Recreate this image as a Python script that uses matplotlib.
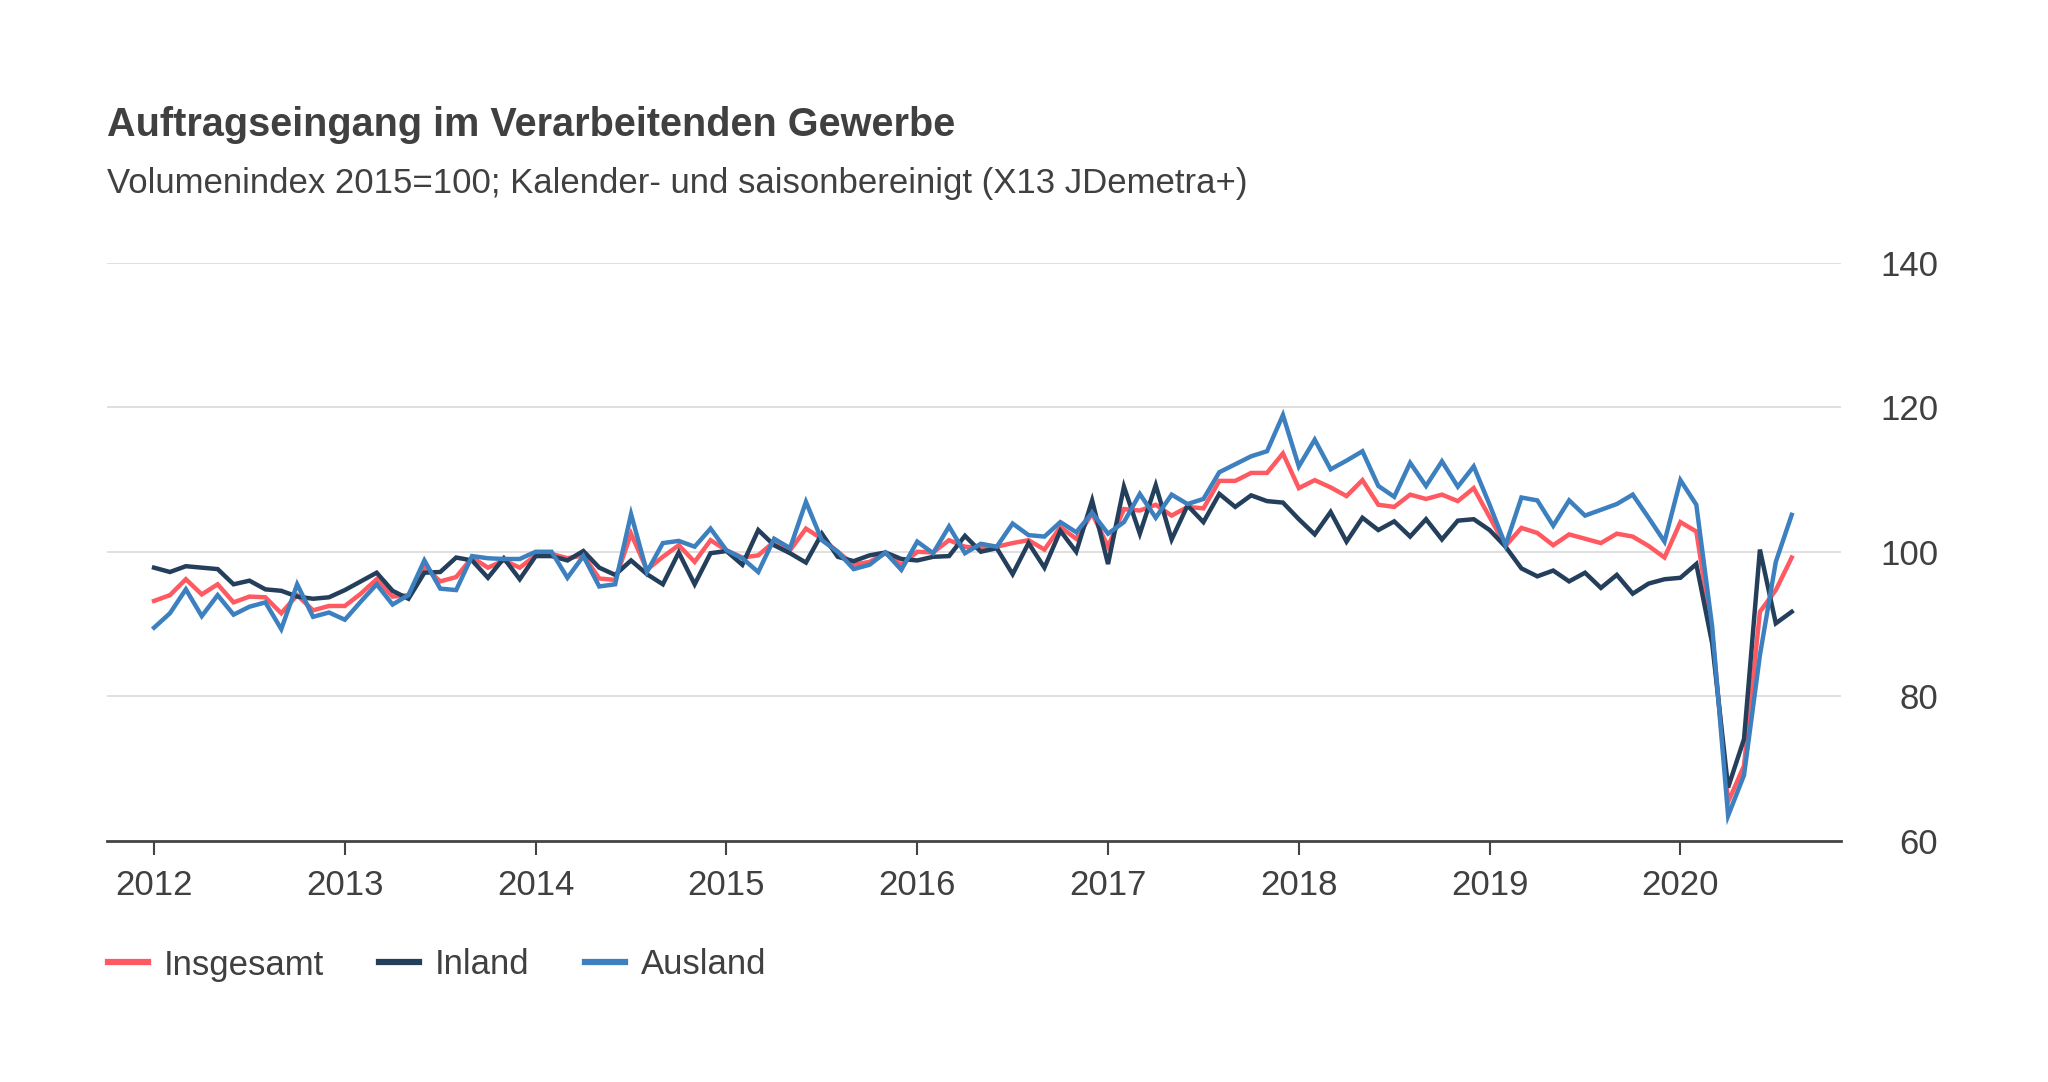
import numpy as np
import matplotlib
matplotlib.use('Agg')
import matplotlib.pyplot as plt

plt.rcParams['font.family'] = ['Liberation Sans', 'DejaVu Sans']

# Monatswerte Jan 2012 - Aug 2020
insgesamt = [93.2, 94.0, 96.2, 94.1, 95.5, 93.0, 93.8, 93.7, 91.5, 94.0, 91.9, 92.5,
             92.5, 94.2, 96.2, 93.8, 94.0, 97.9, 95.9, 96.5, 99.2, 97.8, 98.8, 97.8,
             99.5, 99.7, 99.1, 99.5, 96.3, 96.1, 102.5, 97.5, 99.3, 100.9, 98.6, 101.6,
             100.2, 99.2, 99.5, 101.4, 100.2, 103.2, 101.8, 100.0, 98.2, 98.6, 99.8, 98.2,
             100.0, 99.9, 101.6, 100.7, 100.5, 100.7, 101.2, 101.6, 100.3, 103.4, 101.8, 105.3,
             100.7, 105.9, 105.7, 106.5, 105.0, 106.2, 106.0, 109.8, 109.8, 110.9, 110.9, 113.6,
             108.8, 109.9, 108.9, 107.7, 109.9, 106.5, 106.2, 107.9, 107.3, 107.9, 107.0, 108.8,
             104.8, 100.8, 103.3, 102.6, 100.9, 102.4, 101.8, 101.2, 102.5, 102.1, 100.8, 99.2,
             104.1, 102.8, 88.7, 65.4, 70.4, 91.7, 94.7, 99.2]
inland = [97.8, 97.2, 98.0, 97.8, 97.6, 95.5, 96.0, 94.8, 94.6, 93.8, 93.5, 93.7,
          94.7, 95.9, 97.1, 94.6, 93.5, 97.1, 97.2, 99.2, 98.8, 96.4, 99.1, 96.2,
          99.4, 99.4, 98.8, 100.1, 97.8, 96.8, 98.8, 96.9, 95.5, 99.9, 95.5, 99.8,
          100.1, 98.2, 103.0, 100.9, 99.8, 98.5, 102.5, 99.3, 98.7, 99.5, 99.9, 99.0,
          98.8, 99.3, 99.4, 102.2, 100.0, 100.5, 96.9, 101.2, 97.8, 102.9, 100.0, 107.1,
          98.3, 109.0, 102.5, 109.2, 101.7, 106.4, 104.1, 108.0, 106.2, 107.8, 107.0, 106.8,
          104.5, 102.4, 105.5, 101.4, 104.7, 103.0, 104.2, 102.1, 104.5, 101.7, 104.3, 104.5,
          103.0, 100.7, 97.7, 96.6, 97.4, 95.9, 97.1, 95.0, 96.8, 94.2, 95.6, 96.2,
          96.4, 98.3, 87.3, 67.4, 74.1, 100.3, 90.1, 91.7]
ausland = [89.5, 91.5, 94.8, 91.1, 94.0, 91.3, 92.4, 93.0, 89.3, 95.5, 91.0, 91.6,
           90.6, 93.1, 95.5, 92.7, 94.0, 98.8, 94.9, 94.7, 99.4, 99.1, 99.0, 99.0,
           100.0, 100.0, 96.4, 99.4, 95.2, 95.5, 105.2, 97.2, 101.2, 101.5, 100.7, 103.2,
           100.2, 99.1, 97.2, 101.8, 100.5, 106.9, 101.6, 100.0, 97.6, 98.2, 99.9, 97.5,
           101.4, 99.8, 103.5, 99.8, 101.1, 100.7, 103.9, 102.3, 102.1, 104.1, 102.7, 105.4,
           102.5, 104.1, 108.0, 104.7, 107.9, 106.6, 107.3, 111.0, 112.1, 113.2, 113.9, 118.9,
           111.8, 115.5, 111.4, 112.6, 113.9, 109.1, 107.6, 112.3, 109.1, 112.5, 109.0, 111.8,
           106.5, 100.9, 107.5, 107.1, 103.6, 107.1, 105.0, 105.8, 106.6, 107.9, 104.7, 101.4,
           109.9, 106.5, 89.6, 63.5, 69.1, 85.7, 98.6, 105.1]

jahre = [2012, 2013, 2014, 2015, 2016, 2017, 2018, 2019, 2020]
y_ticks = [60, 80, 100, 120, 140]

x = 2012 + np.arange(len(insgesamt)) / 12

text_col = '#404040'
fig = plt.figure(figsize=(20.48, 10.82), dpi=100)
ax = fig.add_axes([107 / 2048, 1 - 841 / 1082, (1841 - 107) / 2048, (841 - 262.5) / 1082])

ax.plot(x, insgesamt, color='#FF5A62', lw=3.2, label='Insgesamt', solid_joinstyle='miter')
ax.plot(x, inland, color='#243F5C', lw=3.2, label='Inland', solid_joinstyle='miter')
ax.plot(x, ausland, color='#3D80BF', lw=3.2, label='Ausland', solid_joinstyle='miter')

ax.set_xlim(2012 - 2.96 / 12, 2012 + 106.1 / 12)
ax.set_ylim(60, 140)
ax.set_xticks(jahre)
ax.set_xticklabels([str(j) for j in jahre])
ax.set_yticks(y_ticks)

for v in y_ticks[1:]:
    ax.axhline(v, color='#dddddd', lw=1.3, zorder=0)

for s in ['top', 'left', 'right']:
    ax.spines[s].set_visible(False)
ax.spines['bottom'].set_color('#444444')
ax.spines['bottom'].set_linewidth(2)

ax.yaxis.tick_right()
ax.tick_params(axis='y', length=0, pad=70, labelsize=25, labelcolor=text_col)
for lbl in ax.get_yticklabels():
    lbl.set_ha('right')
ax.tick_params(axis='x', length=10, width=1.5, color='#444444', pad=10,
               labelsize=25, labelcolor=text_col)

fig.text(107 / 2048, 1 - 136 / 1082, 'Auftragseingang im Verarbeitenden Gewerbe',
         fontsize=28.5, fontweight='bold', color=text_col, va='baseline')
fig.text(107 / 2048, 1 - 193 / 1082,
         'Volumenindex 2015=100; Kalender- und saisonbereinigt (X13 JDemetra+)',
         fontsize=25, color=text_col, va='baseline')

leg = fig.legend(loc='center left', bbox_to_anchor=(108 / 2048, 1 - 965 / 1082), ncol=3,
                 frameon=False, fontsize=25, handlelength=1.15, handletextpad=0.45,
                 columnspacing=1.6, borderaxespad=0, borderpad=0)
for t in leg.get_texts():
    t.set_color(text_col)
for h in leg.get_lines():
    h.set_linewidth(4.5)

fig.savefig('out.png', dpi=100)
